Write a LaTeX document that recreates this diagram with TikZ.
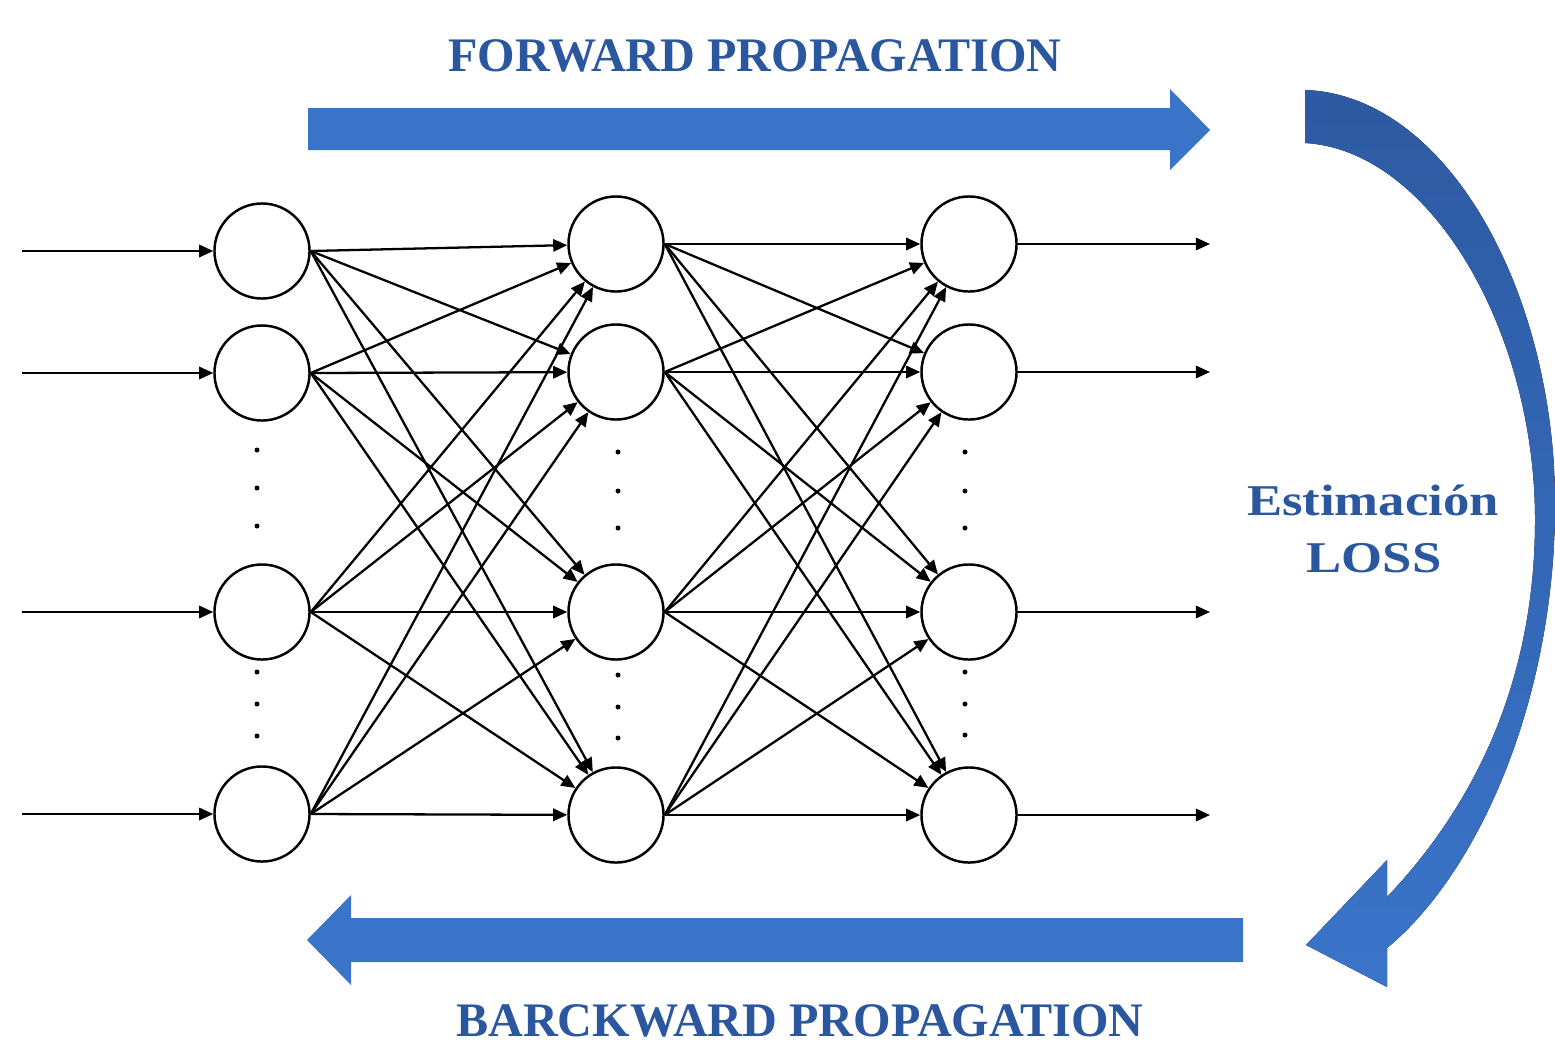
\documentclass[tikz,border=0pt]{standalone}
\usepackage{fontspec}
\setmainfont{Liberation Serif}
\newfontfamily\widefont[FakeStretch=1.2]{Liberation Serif}
\usetikzlibrary{arrows.meta}
\definecolor{arrowblue}{HTML}{3A74C9}
\definecolor{darkarrow}{HTML}{2D5AA2}
\definecolor{textblue}{HTML}{2B579F}
\tikzset{
  neuron/.style={circle, draw, line width=0.7pt, minimum size=0.95cm, inner sep=0pt},
  synapse/.style={line width=0.65pt, -{Triangle[length=4pt,width=3.5pt]}},
  bigtitle/.style={text=textblue, font=\fontsize{13.7}{16}\selectfont\bfseries},
  losslabel/.style={text=textblue, font=\widefont\fontsize{12.5}{15}\selectfont\bfseries, anchor=base},
}
\begin{document}
\begin{tikzpicture}[x=0.01cm, y=-0.01cm]
      \useasboundingbox (0,0) rectangle (1555,1045);
      \draw
        (262,251) node[neuron] (a1){}
        (262,373) node[neuron] (a2){}
        (262,612) node[neuron] (a3){}
        (262,814) node[neuron] (a4){}
        (616,244) node[neuron] (b1){}
        (616,372) node[neuron] (b2){}
        (616,612) node[neuron] (b3){}
        (616,815) node[neuron] (b4){}
        (969,244) node[neuron] (c1){}
        (969,372) node[neuron] (c2){}
        (969,612) node[neuron] (c3){}
        (969,815) node[neuron] (c4){};
      \coordinate (in1) at (22,251);
      \coordinate (in2) at (22,373);
      \coordinate (in3) at (22,612);
      \coordinate (in4) at (22,814);
      \coordinate (out1) at (1210,244);
      \coordinate (out2) at (1210,372);
      \coordinate (out3) at (1210,612);
      \coordinate (out4) at (1210,815);
      % vertical dots
      \fill (257,450) circle[radius=2.5] (257,488) circle[radius=2.5] (257,526) circle[radius=2.5];
      \fill (257,672) circle[radius=2.5] (257,704) circle[radius=2.5] (257,736) circle[radius=2.5];
      \fill (618,452) circle[radius=2.5] (618,491) circle[radius=2.5] (618,528) circle[radius=2.5];
      \fill (618,675) circle[radius=2.5] (618,707) circle[radius=2.5] (618,738) circle[radius=2.5];
      \fill (965,452) circle[radius=2.5] (965,491) circle[radius=2.5] (965,528) circle[radius=2.5];
      \fill (965,672) circle[radius=2.5] (965,704) circle[radius=2.5] (965,735) circle[radius=2.5];
      \begin{scope}[synapse]
        \draw (in1) to (a1);
        \draw (in2) to (a2);
        \draw (in3) to (a3);
        \draw (in4) to (a4);
        \draw (a1.east) to (b1);
        \draw (a1.east) to (b2);
        \draw (a1.east) to (b3);
        \draw (a1.east) to (b4);
        \draw (a2.east) to (b1);
        \draw (a2.east) to (b2);
        \draw (a2.east) to (b3);
        \draw (a2.east) to (b4);
        \draw (a3.east) to (b1);
        \draw (a3.east) to (b2);
        \draw (a3.east) to (b3);
        \draw (a3.east) to (b4);
        \draw (a4.east) to (b1);
        \draw (a4.east) to (b2);
        \draw (a4.east) to (b3);
        \draw (a4.east) to (b4);
        \draw (b1.east) to (c1);
        \draw (b1.east) to (c2);
        \draw (b1.east) to (c3);
        \draw (b1.east) to (c4);
        \draw (b2.east) to (c1);
        \draw (b2.east) to (c2);
        \draw (b2.east) to (c3);
        \draw (b2.east) to (c4);
        \draw (b3.east) to (c1);
        \draw (b3.east) to (c2);
        \draw (b3.east) to (c3);
        \draw (b3.east) to (c4);
        \draw (b4.east) to (c1);
        \draw (b4.east) to (c2);
        \draw (b4.east) to (c3);
        \draw (b4.east) to (c4);
        \draw (c1) to (out1);
        \draw (c2) to (out2);
        \draw (c3) to (out3);
        \draw (c4) to (out4);
      \end{scope}
      % big arrows
      \fill[arrowblue] (308,108) -- (1170,108) -- (1170,89) -- (1210,130)
        -- (1170,170) -- (1170,150) -- (308,150) -- cycle;
      \fill[arrowblue] (1243,918) -- (351,918) -- (351,895) -- (307,940)
        -- (351,985) -- (351,962) -- (1243,962) -- cycle;
      \fill[top color=darkarrow, bottom color=arrowblue]
        (1305,90) .. controls (1450,95) and (1560,300) .. (1555,520)
        .. controls (1550,720) and (1470,880) .. (1387,948)
        -- (1387,987) -- (1306,945) -- (1387,860) -- (1387,897)
        .. controls (1460,820) and (1535,700) .. (1535,520)
        .. controls (1535,330) and (1430,150) .. (1305,143) -- cycle;
      \node[bigtitle] (fwdtext) at (755,56) {FORWARD PROPAGATION};
      \node[bigtitle] (bwdtext) at (800,1021) {BARCKWARD PROPAGATION};
      \node[losslabel] (esttext) at (1373,515) {Estimación};
      \node[losslabel] (losstext) at (1374,572) {LOSS};
    \end{tikzpicture}
\end{document}
